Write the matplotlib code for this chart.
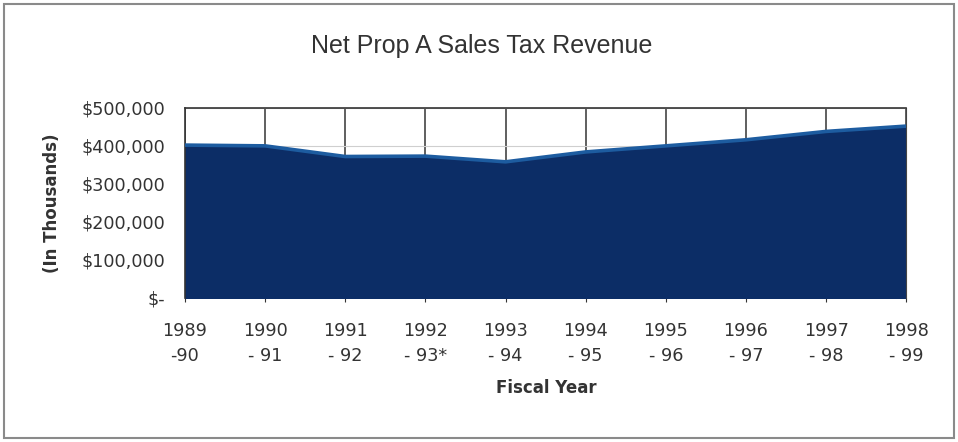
import matplotlib.pyplot as plt
from matplotlib.patches import Rectangle
from matplotlib.ticker import FuncFormatter

# Net Prop A sales tax revenue by fiscal year (in thousands)
fiscal_years = ["1989\n-90", "1990\n- 91", "1991\n- 92", "1992\n- 93*", "1993\n- 94",
                "1994\n- 95", "1995\n- 96", "1996\n- 97", "1997\n- 98", "1998\n- 99"]
revenue = [402000, 400000, 372000, 373000, 358000, 384000, 400000, 416000, 438000, 452000]

plt.rcParams["font.family"] = ["DejaVu Sans"]

fig = plt.figure(figsize=(9.58, 4.42), dpi=100)
ax = fig.add_axes([0.193, 0.326, 0.753, 0.43])

x = list(range(len(revenue)))
ax.fill_between(x, revenue, 0, color="#0c2d66", zorder=2)
ax.plot(x, revenue, color="#1d5ca0", lw=2.6, zorder=3)

ax.set_xlim(0, len(revenue) - 1)
ax.set_ylim(0, 500000)
ax.set_yticks(range(0, 500001, 100000))
ax.yaxis.set_major_formatter(FuncFormatter(lambda v, p: "$-" if v == 0 else f"${v:,.0f}"))
ax.set_xticks(x)
ax.set_xticklabels(fiscal_years, fontsize=12.7, color="#333333", linespacing=1.55)
ax.tick_params(axis="y", labelsize=12.7, colors="#333333", length=0, pad=14)
ax.tick_params(axis="x", length=3, pad=14, color="#333333")

# grid sits behind the filled area
ax.grid(True, color="#444444", lw=1.2, zorder=1)
ax.grid(True, axis="y", color="#cfcfcf", lw=0.8)
ax.set_axisbelow(True)
for s in ["top", "left"]:
    ax.spines[s].set_color("#333333")
    ax.spines[s].set_linewidth(1.2)
ax.spines["right"].set_color("#444444")
ax.spines["bottom"].set_visible(False)

fig.text(546 / 958, 1 - 388 / 442, "Fiscal Year", fontsize=12, fontweight="bold",
         color="#333333", ha="center", va="center")
fig.text(52 / 958, 1 - 203 / 442, "(In Thousands)", fontsize=12, fontweight="bold",
         color="#333333", ha="center", va="center", rotation=90)

fig.text(0.503, 0.895, "Net Prop A Sales Tax Revenue", fontsize=18, color="#333333",
         ha="center", va="center", family="Liberation Sans")

# outer frame around the chart
fig.patches.append(Rectangle((0.004, 0.008), 0.992, 0.984, transform=fig.transFigure,
                             fill=False, edgecolor="#8a8a8a", lw=1.5))

fig.savefig("out.png", dpi=100)
